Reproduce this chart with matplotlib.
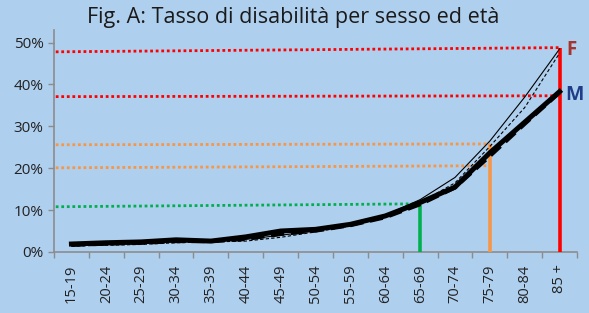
import numpy as np
import matplotlib
matplotlib.use("Agg")
import matplotlib.pyplot as plt

# age classes on the x axis
ages = ['15-19', '20-24', '25-29', '30-34', '35-39', '40-44', '45-49', '50-54',
        '55-59', '60-64', '65-69', '70-74', '75-79', '80-84', '85 +']

# disability rate (%)
male_a = [1.9, 2.2, 2.4, 2.9, 2.6, 3.6, 5.0, 5.4, 6.6, 8.6, 11.8, 15.5, 23.7, 31.0, 38.3]
male_b = [1.6, 1.9, 2.1, 2.5, 2.5, 3.0, 4.2, 5.0, 6.3, 8.2, 11.3, 15.3, 22.8, 30.5, 38.0]
female_a = [1.5, 1.7, 2.0, 2.4, 2.6, 3.0, 4.0, 5.0, 6.5, 8.8, 12.5, 17.8, 26.5, 37.0, 48.5]
female_b = [1.4, 1.6, 1.8, 2.2, 2.4, 2.6, 3.5, 4.8, 6.2, 8.3, 11.8, 16.5, 25.2, 34.5, 47.5]

# reference markers: (age index, bar height)
marker_idx = [10, 12, 14]
marker_val = [11.3, 25.8, 48.8]
marker_col = ['#00B050', '#F79646', '#FF0000']
# dotted guide lines: end index, start level, end level
guide_idx = [14, 14, 12, 12, 10]
guide_start = [47.8, 37.1, 25.6, 20.1, 10.8]
guide_end = [48.8, 37.3, 25.8, 20.6, 11.5]
guide_col = ['#FF0000', '#FF0000', '#F79646', '#F79646', '#00B050']

bg = '#AFCFEE'
plt.rcParams['font.family'] = ['Open Sans', 'DejaVu Sans']

fig = plt.figure(figsize=(5.89, 3.13), dpi=100, facecolor=bg)
ax = fig.add_axes([0.0917, 0.195, 0.888, 0.709], facecolor=bg)

x = np.arange(len(ages))

for i, s, e, c in zip(guide_idx, guide_start, guide_end, guide_col):
    ax.plot([-0.45, i], [s, e], color=c, lw=2.0, ls=(0, (1, 1)), zorder=2)

for i, v, c in zip(marker_idx, marker_val, marker_col):
    ax.plot([i, i], [0, v], color=c, lw=2.6, solid_capstyle='butt', zorder=3)

ax.plot(x, female_a, color='black', lw=0.8, zorder=4)
ax.plot(x, female_b, color='black', lw=0.8, ls=(0, (3, 2)), zorder=4)
ax.plot(x, male_b, color='black', lw=2.4, ls=(0, (4, 2)), zorder=5)
ax.plot(x, male_a, color='black', lw=3.6, zorder=6)

ax.text(14.2, 48.2, 'F', color='#A5342C', fontsize=13.5, fontweight='bold',
        ha='left', va='center')
ax.text(14.15, 37.6, 'M', color='#1F3C88', fontsize=14, fontweight='bold',
        ha='left', va='center')

ax.set_xlim(-0.5, len(ages) - 0.5)
ax.set_ylim(0, 53)
ax.set_yticks(range(0, 51, 10))
ax.set_yticklabels([f'{v}%' for v in range(0, 51, 10)])
ax.set_xticks(x)
ax.set_xticklabels(ages, rotation=90)
ax.set_xticks(np.arange(-0.5, len(ages)), minor=True)
ax.tick_params(axis='x', which='major', length=0, pad=9, labelsize=10.5, colors='#222222')
ax.tick_params(axis='x', which='minor', length=4, color='#8C8C8C', width=1)
ax.tick_params(axis='y', length=4, color='#8C8C8C', width=1, labelsize=11,
               labelcolor='#222222')

for side in ['top', 'right']:
    ax.spines[side].set_visible(False)
for side in ['left', 'bottom']:
    ax.spines[side].set_color('#8C8C8C')
    ax.spines[side].set_linewidth(1.2)

fig.text(0.498, 0.945, 'Fig. A: Tasso di disabilità per sesso ed età',
         ha='center', va='center', fontsize=15.5, color='#1A1A1A')

fig.savefig('out.png', dpi=100, facecolor=bg)
